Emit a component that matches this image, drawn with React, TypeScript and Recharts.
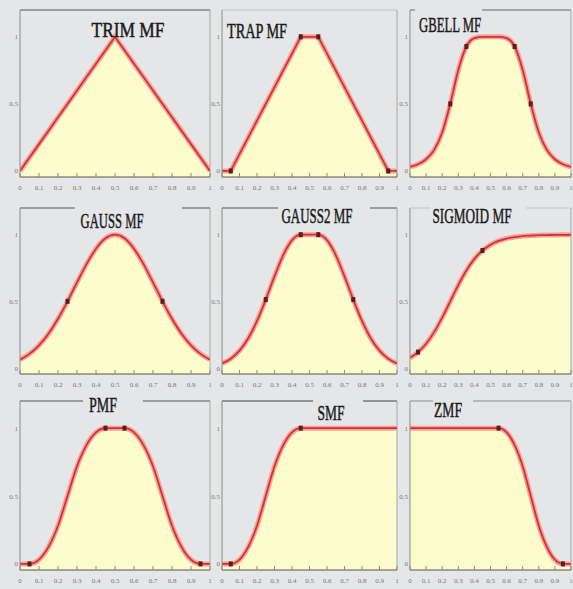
import React from 'react';
import { ComposedChart, Area, Line, XAxis, YAxis, ReferenceLine } from 'recharts';

// ---------- data ----------
const xs = [0, 0.05, 0.1, 0.15, 0.2, 0.25, 0.3, 0.35, 0.4, 0.45, 0.5, 0.55, 0.6, 0.65, 0.7, 0.75, 0.8, 0.85, 0.9, 0.95, 1];
const xTicks = [0, 0.1, 0.2, 0.3, 0.4, 0.5, 0.6, 0.7, 0.8, 0.9, 1];
const xTickLabels = ['0', '0.1', '0.2', '0.3', '0.4', '0.5', '0.6', '0.7', '0.8', '0.9', '1'];
const yTicks = [0, 0.5, 1];
const yTickLabels = ['0', '0.5', '1'];

const trimY = [0, 0.1, 0.2, 0.3, 0.4, 0.5, 0.6, 0.7, 0.8, 0.9, 1, 0.9, 0.8, 0.7, 0.6, 0.5, 0.4, 0.3, 0.2, 0.1, 0];
const trapY = [0, 0, 0.125, 0.25, 0.375, 0.5, 0.625, 0.75, 0.875, 1, 1, 1, 0.875, 0.75, 0.625, 0.5, 0.375, 0.25, 0.125, 0, 0];
const gbellY = [0.03, 0.05, 0.087, 0.157, 0.287, 0.5, 0.753, 0.928, 0.99, 1, 1, 1, 0.99, 0.928, 0.753, 0.5, 0.287, 0.157, 0.087, 0.05, 0.03];
const gaussY = [0.0625, 0.106, 0.17, 0.257, 0.369, 0.5, 0.642, 0.779, 0.895, 0.973, 1, 0.973, 0.895, 0.779, 0.642, 0.5, 0.369, 0.257, 0.17, 0.106, 0.0625];
const gauss2Y = [0.034, 0.07, 0.13, 0.223, 0.353, 0.513, 0.687, 0.847, 0.959, 1, 1, 1, 0.959, 0.847, 0.687, 0.513, 0.353, 0.223, 0.13, 0.07, 0.034];
const sigmoidY = [0.076, 0.119, 0.182, 0.269, 0.378, 0.5, 0.622, 0.731, 0.818, 0.881, 0.924, 0.953, 0.971, 0.982, 0.989, 0.993, 0.996, 0.997, 0.998, 0.999, 0.999];
const pimfY = [0, 0, 0.031, 0.125, 0.281, 0.5, 0.719, 0.875, 0.969, 1, 1, 1, 0.969, 0.875, 0.719, 0.5, 0.281, 0.125, 0.031, 0, 0];
const smfY = [0, 0, 0.031, 0.125, 0.281, 0.5, 0.719, 0.875, 0.969, 1, 1, 1, 1, 1, 1, 1, 1, 1, 1, 1, 1];
const zmfY = [1, 1, 1, 1, 1, 1, 1, 1, 1, 1, 1, 1, 0.969, 0.875, 0.719, 0.5, 0.281, 0.125, 0.031, 0, 0];

const trimMarkers: number[] = [];
const trapMarkers = [0.05, 0.45, 0.55, 0.95];
const gbellMarkers = [0.25, 0.35, 0.65, 0.75];
const gaussMarkers = [0.25, 0.75];
const gauss2Markers = [0.25, 0.45, 0.55, 0.75];
const sigmoidMarkers = [0.05, 0.45];
const pimfMarkers = [0.05, 0.45, 0.55, 0.95];
const smfMarkers = [0.05, 0.45];
const zmfMarkers = [0.55, 0.95];

const titles = ['TRIM MF', 'TRAP MF', 'GBELL MF', 'GAUSS MF', 'GAUSS2 MF', 'SIGMOID MF', 'PMF', 'SMF', 'ZMF'];

// ---------- layout / style ----------
const BG = '#e5e6e8';
const FILL = '#fdfccc';
const colX = [[20, 210], [222, 397], [410, 571]];
const rowY = [[10, 177], [208, 374], [401, 570]];

type Curve = 'linear' | 'monotone';
type Spec = { values: number[]; markers: number[]; curve: Curve; frame: string };

const specs: Spec[] = [
  { values: trimY, markers: trimMarkers, curve: 'linear', frame: '#555' },
  { values: trapY, markers: trapMarkers, curve: 'linear', frame: '#c4c4c4' },
  { values: gbellY, markers: gbellMarkers, curve: 'monotone', frame: '#666' },
  { values: gaussY, markers: gaussMarkers, curve: 'monotone', frame: '#555' },
  { values: gauss2Y, markers: gauss2Markers, curve: 'monotone', frame: '#555' },
  { values: sigmoidY, markers: sigmoidMarkers, curve: 'monotone', frame: '#c4c4c4' },
  { values: pimfY, markers: pimfMarkers, curve: 'monotone', frame: '#555' },
  { values: smfY, markers: smfMarkers, curve: 'monotone', frame: '#444' },
  { values: zmfY, markers: zmfMarkers, curve: 'monotone', frame: '#888' },
];

// title placement: centre x, baseline y, text width, gap in frame line [x1, x2] or null
const titleLayout = [
  { cx: 128, base: 37, w: 73, gap: null as null | number[] },
  { cx: 257, base: 38, w: 60, gap: null },
  { cx: 450, base: 32, w: 62, gap: [415, 482] },
  { cx: 112, base: 228, w: 63, gap: [75, 182] },
  { cx: 317, base: 223, w: 71, gap: [278, 370] },
  { cx: 472, base: 223, w: 79, gap: [430, 526] },
  { cx: 103, base: 412, w: 28, gap: [83, 143] },
  { cx: 331, base: 420, w: 27, gap: [313, 363] },
  { cx: 448, base: 417, w: 28, gap: [433, 473] },
];

const XTick = (props: any) => {
  const { x, y, payload } = props;
  const i = xTicks.findIndex((t) => Math.abs(t - payload.value) < 1e-6);
  return (
    <g>
      <line x1={x} x2={x} y1={y - 4} y2={y} stroke="#888" strokeWidth={1} />
      <text x={x} y={y + 13} textAnchor="middle" fontSize={7} fontFamily="Liberation Serif" fill="#777">
        {i >= 0 ? xTickLabels[i] : ''}
      </text>
    </g>
  );
};

const YTick = (props: any) => {
  const { x, y, payload } = props;
  const i = yTicks.findIndex((t) => Math.abs(t - payload.value) < 1e-6);
  return (
    <text x={x - 2} y={y + 2.5} textAnchor="end" fontSize={7} fontFamily="Liberation Serif" fill="#777">
      {i >= 0 ? yTickLabels[i] : ''}
    </text>
  );
};

function Panel({ spec, col, row }: { spec: Spec; col: number; row: number }) {
  const YW = 16, XH = 18, MT = 2, MR = 2;
  const [x0, x1] = colX[col];
  const [top, bottom] = rowY[row];
  const w = x1 - x0 + YW + MR;
  const h = bottom - top + MT + XH;
  const data = xs.map((x, i) => ({ x, y: spec.values[i] }));
  const isMarker = (v: number) => spec.markers.some((m) => Math.abs(m - v) < 1e-6);
  const renderDot = (p: any) => {
    const { cx, cy, payload, index } = p;
    if (payload && isMarker(payload.x) && cx != null && cy != null) {
      return <rect key={`m${index}`} x={cx - 2} y={cy - 2.5} width={4} height={5} fill="#5a1c1c" />;
    }
    return <g key={`n${index}`} />;
  };
  return (
    <div style={{ position: 'absolute', left: x0 - YW, top: top - MT }}>
      <ComposedChart width={w} height={h} data={data} margin={{ top: MT, right: MR, bottom: 0, left: 0 }}>
        <XAxis
          type="number"
          dataKey="x"
          domain={[0, 1]}
          ticks={xTicks}
          interval={0}
          height={XH}
          tickSize={0}
          tickMargin={0}
          tickLine={false}
          axisLine={{ stroke: '#555' }}
          tick={<XTick />}
          allowDataOverflow
        />
        <YAxis
          type="number"
          domain={[-0.045, 1.2]}
          ticks={yTicks}
          width={YW}
          tickSize={0}
          tickMargin={0}
          tickLine={false}
          axisLine={{ stroke: '#8c8c8c' }}
          tick={<YTick />}
          allowDataOverflow
        />
        <Area
          dataKey="y"
          type={spec.curve}
          fill={FILL}
          fillOpacity={1}
          stroke="none"
          baseValue="dataMin"
          dot={false}
          activeDot={false}
          isAnimationActive={false}
        />
        <ReferenceLine y={1.2} stroke={spec.frame} strokeWidth={1.2} ifOverflow="visible" />
        <ReferenceLine x={1} stroke="#a8a8a8" ifOverflow="visible" />
        <Line dataKey="y" type={spec.curve} stroke="#f2a29e" strokeWidth={5} dot={false} activeDot={false} isAnimationActive={false} />
        <Line dataKey="y" type={spec.curve} stroke="#d8302a" strokeWidth={1.8} dot={renderDot} activeDot={false} isAnimationActive={false} />
      </ComposedChart>
    </div>
  );
}

export default function App() {
  return (
    <div style={{ position: 'fixed', left: 0, top: 0, width: 573, height: 589, background: BG, overflow: 'hidden' }}>
      {specs.map((s, i) => (
        <Panel key={i} spec={s} col={i % 3} row={Math.floor(i / 3)} />
      ))}
      <svg width={573} height={589} style={{ position: 'absolute', left: 0, top: 0, pointerEvents: 'none' }}>
        {titleLayout.map((t, i) => {
          const row = Math.floor(i / 3);
          const lineY = rowY[row][0];
          return (
            <g key={i}>
              {t.gap && <rect x={t.gap[0]} y={lineY - 2} width={t.gap[1] - t.gap[0]} height={4} fill={BG} />}
              <text
                x={t.cx}
                y={t.base}
                textAnchor="middle"
                fontSize={22}
                fontFamily="Liberation Serif"
                fill="#1b1b1b"
                stroke="#1b1b1b"
                strokeWidth={0.5}
                textLength={t.w}
                lengthAdjust="spacingAndGlyphs"
              >
                {titles[i]}
              </text>
            </g>
          );
        })}
      </svg>
    </div>
  );
}
